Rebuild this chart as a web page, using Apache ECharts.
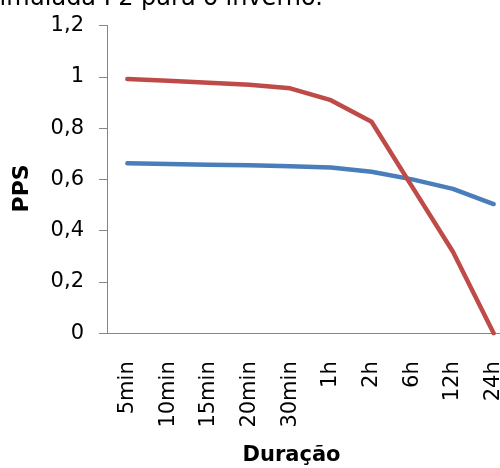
<!DOCTYPE html>
<html>
<head>
<meta charset="utf-8">
<script src="https://cdn.jsdelivr.net/npm/echarts@6/dist/echarts.min.js"></script>
<style>html,body{margin:0;padding:0;background:#fff;}#c{width:500px;height:468px;}</style>
</head>
<body>
<div id="c"></div>
<script>
const categories = ['5min','10min','15min','20min','30min','1h','2h','6h','12h','24h'];
const seriesBlue = [0.663, 0.660, 0.657, 0.655, 0.651, 0.646, 0.630, 0.600, 0.563, 0.504];
const seriesRed = [0.991, 0.985, 0.977, 0.969, 0.955, 0.909, 0.825, 0.571, 0.318, 0.0];
const yTicks = [0, 0.2, 0.4, 0.6, 0.8, 1, 1.2];
const titleText = 'simulada P2 para o inverno.';
const xName = 'Duração';
const yName = 'PPS';

const FONT = 'DejaVu Sans';
const chart = echarts.init(document.getElementById('c'), null, {renderer: 'canvas'});
chart.setOption({
  animation: false,
  backgroundColor: '#ffffff',
  graphic: [{
    type: 'text', left: -13, top: -13,
    style: {text: titleText, font: '24px "DejaVu Sans"', fill: '#000'}
  }],
  grid: {left: 107, right: -14, top: 25.5, bottom: 134.7, containLabel: false, outerBoundsMode: 'none'},
  xAxis: {
    type: 'category', data: categories, boundaryGap: true,
    name: xName, nameLocation: 'middle', nameGap: 112,
    nameTextStyle: {fontFamily: FONT, fontSize: 21, fontWeight: 'bold', color: '#000', padding: [0, 38, 0, 0]},
    axisLine: {lineStyle: {color: '#868686', width: 1}},
    axisTick: {show: false},
    axisLabel: {rotate: 90, margin: 28, fontFamily: FONT, fontSize: 21, color: '#000', interval: 0},
    splitLine: {show: false}
  },
  yAxis: {
    type: 'value', min: yTicks[0], max: yTicks[yTicks.length - 1], interval: 0.2,
    name: yName, nameLocation: 'middle', nameGap: 74,
    nameTextStyle: {fontFamily: FONT, fontSize: 22, fontWeight: 'bold', color: '#000', padding: [0, 18, 0, 0]},
    axisLine: {show: true, lineStyle: {color: '#868686', width: 1}},
    axisTick: {show: true, inside: false, length: 8, lineStyle: {color: '#868686'}},
    axisLabel: {margin: 23, fontFamily: FONT, fontSize: 21, color: '#000',
      formatter: v => String(Math.round(v * 10) / 10).replace('.', ',')},
    splitLine: {show: false}
  },
  series: [
    {type: 'line', data: seriesBlue, showSymbol: false, symbol: 'none',
     lineStyle: {color: '#4A7EBB', width: 4.5, cap: 'round', join: 'round'}, itemStyle: {color: '#4A7EBB'}},
    {type: 'line', data: seriesRed, showSymbol: false, symbol: 'none',
     lineStyle: {color: '#BE4B48', width: 4.5, cap: 'round', join: 'round'}, itemStyle: {color: '#BE4B48'}}
  ]
});
</script>
</body>
</html>
